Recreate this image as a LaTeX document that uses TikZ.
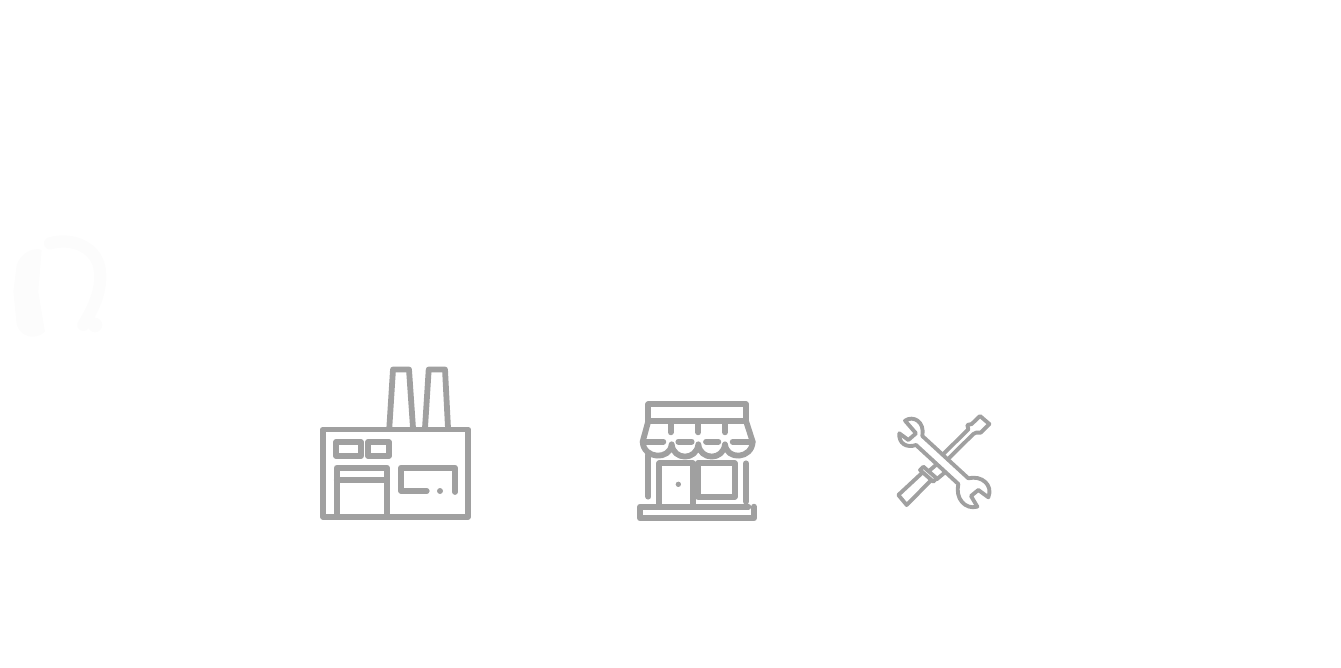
\documentclass[tikz,border=0pt]{standalone}
\usepackage{tikz}

\definecolor{icongray}{HTML}{A0A0A0}
\definecolor{ghostgray}{HTML}{FCFCFC}
\tikzset{
	iconline/.style={draw=icongray, line width=3.3pt, line join=round, line cap=round},
	thinline/.style={draw=icongray, line width=2.2pt, line join=round, line cap=round},
	ghostline/.style={draw=ghostgray, line width=7pt, line cap=round},
	zoomed/.style={x=0.00667cm, y=-0.00667cm}
}

\begin{document}
\begin{tikzpicture}[x=0.02cm, y=-0.02cm]
	\useasboundingbox (0,0) rectangle (1341,668);
	% faint headset on the left
	\begin{scope}[shift={(0,225)}, zoomed]
		\fill[ghostgray] (50,120) .. controls (60,85) and (100,65) .. (125,75) -- (115,200) -- (135,320) .. controls (110,345) and (65,340) .. (50,300) -- (40,200) -- cycle;
		\draw[ghostline] (150,55) .. controls (220,35) and (295,70) .. (300,140) .. controls (305,200) and (280,250) .. (250,300);
		\fill[ghostgray] (285,300) circle [radius=22];
	\end{scope}
	% factory
	\draw[iconline] (323,429.5) rectangle (468,517);
	\draw[iconline] (389.3,428)--(393,369.5)--(409,369.5)--(413,428);
	\draw[iconline] (425,428)--(428.7,369.5)--(445,369.5)--(448,428);
	\draw[iconline] (336,442) rectangle (360.7,456);
	\draw[iconline] (368,442) rectangle (389,456);
	\draw[iconline] (336.7,517)--(336.7,467.7)--(387,467.7)--(387,517);
	\draw[iconline] (336.7,480)--(387,480);
	\draw[iconline] (426.7,491)--(401,491)--(401,467.7)--(455,467.7)--(455,492);
	\fill[icongray] (440,491) circle [radius=3];
	% store
	\begin{scope}[shift={(630,395)}, zoomed]
		\draw[iconline] (55,78)--(55,28)--(348,28)--(348,78)--cycle;
		\draw[iconline] (55,78)--(38,140) .. controls (40,192) and (120,197) .. (125,148) .. controls (130,197) and (200,197) .. (205,148) .. controls (210,197) and (280,197) .. (285,148) .. controls (290,197) and (366,192) .. (368,140)--(348,78);
		\draw[iconline] (38,140)--(100,140);
		\draw[iconline] (145,140)--(185,140);
		\draw[iconline] (228,140)--(265,140);
		\draw[iconline] (308,140)--(368,140);
		\draw[iconline] (122,78)--(122,112);
		\draw[iconline] (205,78)--(205,112);
		\draw[iconline] (285,78)--(285,112);
		\draw[iconline] (55,180)--(55,305);
		\draw[iconline] (348,205)--(348,320);
		\draw[iconline] (88,335)--(88,205)--(188,205)--(188,335);
		\draw[iconline] (204,205) rectangle (314,305);
		\fill[icongray] (145,268) circle [radius=8];
		\draw[iconline] (355,335)--(30,335)--(30,370)--(372,370)--(372,335);
	\end{scope}
	% tools
	\begin{scope}[shift={(890,410)}, zoomed]
		\draw[thinline] (45,32) .. controls (70,15) and (105,35) .. (97,78)--(235,205) .. controls (275,195) and (310,225) .. (295,262)--(265,240)--(243,258)--(262,290) .. controls (225,300) and (195,265) .. (205,222)--(78,105) .. controls (50,115) and (25,100) .. (28,70)--(55,90)--(78,70)--cycle;
		\draw[thinline] (158,134)--(235,58)--(232,45)--(245,42)--(270,18)--(298,42)--(272,68)--(258,68)--(250,72)--(173,148);
		\draw[thinline] (140,163)--(118,182);
		\draw[thinline] (165,187)--(140,208);
		\draw[thinline] (100,170)--(90,180)--(130,215)--(140,205)--cycle;
		\draw[thinline] (97,188)--(25,255)--(50,285)--(122,212);
	\end{scope}
\end{tikzpicture}
\end{document}
